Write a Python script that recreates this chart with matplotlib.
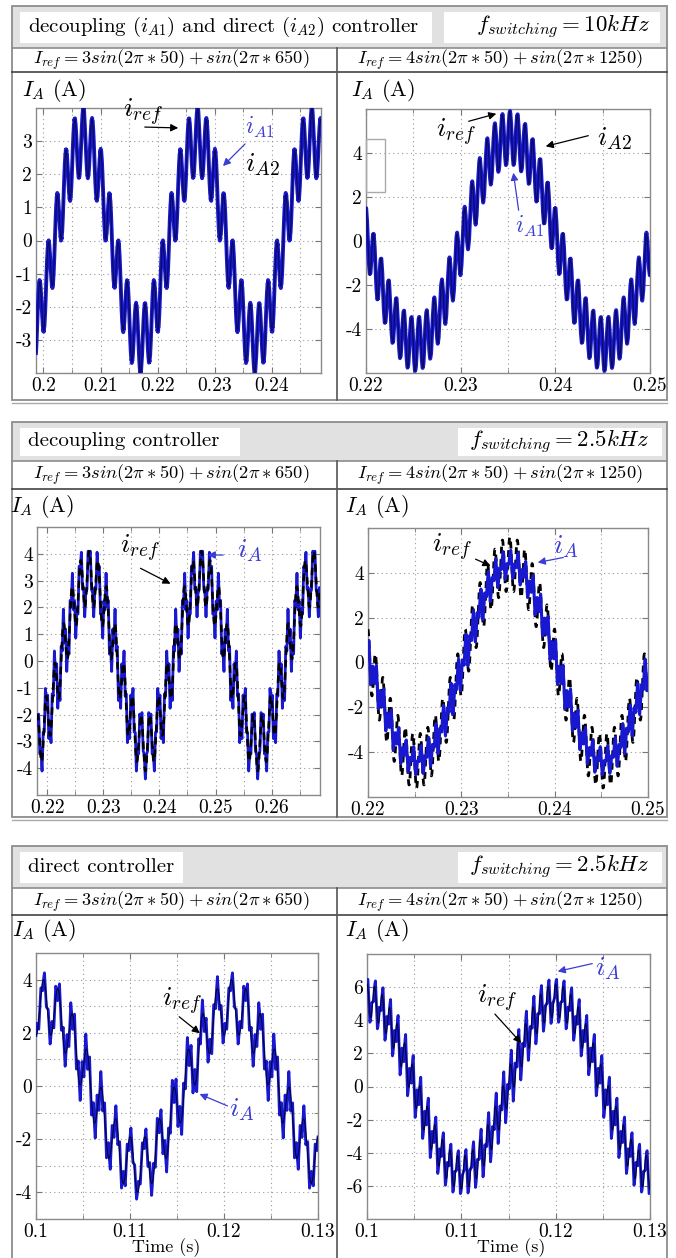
import numpy as np
import matplotlib
matplotlib.use("Agg")
import matplotlib.pyplot as plt
from matplotlib.patches import Rectangle, FancyArrowPatch
from matplotlib.lines import Line2D
from matplotlib.ticker import MultipleLocator

plt.rcParams['mathtext.fontset'] = 'cm'
plt.rcParams['axes.unicode_minus'] = False

# ---- signal parameters per panel (TL, TR, ML, MR, BL, BR) ----
f_fund = 50.0
f_harm = [650, 1250, 650, 1250, 650, 1250]
amp_fund = [3.0, 4.7, 3.1, 4.4, 3.0, 5.2]
amp_harm = [1.0, 1.2, 1.0, 1.2, 1.0, 1.0]
t_zero = [0.202, 0.2302, 0.2225, 0.2302, 0.0958, 0.095]
f_switch = [10000, 10000, 2500, 2500, 2500, 2500]
ripple = [0.05, 0.05, 0.55, 0.55, 0.6, 1.0]
harm_gain = [1.0, 1.0, 1.0, 0.35, 1.0, 1.0]

xlims = [(0.1987, 0.2486), (0.22, 0.25), (0.2182, 0.2686), (0.22, 0.25), (0.10, 0.13), (0.10, 0.13)]
ylims = [4, 6, 5, 6, 5, 8]
xtick_labels = [["0.2", "0.21", "0.22", "0.23", "0.24"],
                ["0.22", "0.23", "0.24", "0.25"],
                ["0.22", "0.23", "0.24", "0.25", "0.26"],
                ["0.22", "0.23", "0.24", "0.25"],
                ["0.1", "0.11", "0.12", "0.13"],
                ["0.1", "0.11", "0.12", "0.13"]]
ytick_labels = [["-3", "-2", "-1", "0", "1", "2", "3"],
                ["-4", "-2", "0", "2", "4"],
                ["-4", "-3", "-2", "-1", "0", "1", "2", "3", "4"],
                ["-4", "-2", "0", "2", "4"],
                ["-4", "-2", "0", "2", "4"],
                ["-6", "-4", "-2", "0", "2", "4", "6"]]
ygrid_step = [1, 2, 1, 2, 1, 2]

header_titles = [r'decoupling $(i_{A1})$ and direct $(i_{A2})$ controller',
                 'decoupling controller', 'direct controller']
switch_titles = [r'$f_{switching} = 10kHz$', r'$f_{switching} = 2.5kHz$',
                 r'$f_{switching} = 2.5kHz$']
ref_titles = [r'$I_{ref} = 3sin(2\pi * 50) + sin(2\pi * 650)$',
              r'$I_{ref} = 4sin(2\pi * 50) + sin(2\pi * 1250)$']

# ---- layout in pixels ----
W, H = 676, 1258
BLUE = '#1818d0'
LBLUE = '#3c3cd6'
CM = ['cmr10', 'DejaVu Serif']


def fx(x):
    return x / W


def fy(y):
    return 1 - y / H


fig = plt.figure(figsize=(W / 100, H / 100), dpi=100)


def rect(x0, y0, x1, y1, z=-5, **kw):
    fig.add_artist(Rectangle((fx(x0), fy(y1)), (x1 - x0) / W, (y1 - y0) / H,
                             transform=fig.transFigure, zorder=z, **kw))


def line(x0, y0, x1, y1, **kw):
    fig.add_artist(Line2D([fx(x0), fx(x1)], [fy(y0), fy(y1)],
                          transform=fig.transFigure, zorder=2, **kw))


def label(x, y, s, size, color='k', ha='center'):
    fig.text(fx(x), fy(y), s, fontsize=size, color=color, ha=ha, va='center',
             family=CM)


def arrow(x0, y0, x1, y1, color='k'):
    fig.add_artist(FancyArrowPatch(
        (fx(x0), fy(y0)), (fx(x1), fy(y1)), transform=fig.transFigure,
        arrowstyle='-|>', mutation_scale=11, color=color, lw=0.9, zorder=4))


blocks = [(6, 48, 72, 400), (422, 461, 489, 817), (846, 888, 915, 1275)]
left_boxes = [(20, 432), (20, 240), (20, 183)]
right_boxes = [(444, 660), (458, 662), (458, 662)]
axes_px = [[(36, 108, 321, 373), (366, 109, 650, 373)],
           [(37, 527, 320, 795), (368, 528, 648, 797)],
           [(36, 953, 318, 1219), (367, 954, 650, 1219)]]
ylabel_x = [(22, 351), (10, 345), (12, 345)]
ylabel_y = [90, 507, 931]

for b, (top, hbot, ebot, bot) in enumerate(blocks):
    rect(12, top, 667, hbot, z=-9, facecolor='#e1e1e1', edgecolor='none')
    rect(12, hbot, 667, bot, z=-9, facecolor='white', edgecolor='none')
    lx0, lx1 = left_boxes[b]
    rx0, rx1 = right_boxes[b]
    rect(lx0, top + 6, lx1, hbot - 5, facecolor='white', edgecolor='none')
    rect(rx0, top + 6, rx1, hbot - 5, facecolor='white', edgecolor='none')
    rect(12, top, 667, bot, z=2, facecolor='none', edgecolor='#8c8c8c', lw=1.3)
    line(12, hbot, 667, hbot, color='#8c8c8c', lw=1.2)
    line(12, ebot, 667, ebot, color='#333333', lw=1.1)
    line(337, hbot, 337, bot, color='#555555', lw=1.2)
    if bot < H:
        line(12, bot + 3, 667, bot + 3, color='#aaaaaa', lw=1.0)
    label(28, (top + hbot) / 2, header_titles[b], 15, ha='left')
    label(650, (top + hbot) / 2, switch_titles[b], 16.5, ha='right')
    label(171, (hbot + ebot) / 2, ref_titles[0], 13.3)
    label(500, (hbot + ebot) / 2, ref_titles[1], 13.3)
    for side in range(2):
        label(ylabel_x[b][side], ylabel_y[b], r'$I_A$ (A)', 16, ha='left')

axes = []
for p in range(6):
    b, side = divmod(p, 2)
    x0, y0, x1, y1 = axes_px[b][side]
    ax = fig.add_axes([fx(x0), fy(y1), (x1 - x0) / W, (y1 - y0) / H])
    ax.set_facecolor('none')
    axes.append(ax)

    t = np.arange(xlims[p][0] - 0.001, xlims[p][1] + 0.001, 5e-6)
    ph = t - t_zero[p]
    fund = amp_fund[p] * np.sin(2 * np.pi * f_fund * ph)
    harm = amp_harm[p] * np.sin(2 * np.pi * f_harm[p] * ph)
    i_ref = fund + harm
    tri = 2 / np.pi * np.arcsin(np.sin(2 * np.pi * f_switch[p] * t))
    env = 0.55 + 0.45 * np.abs(np.cos(2 * np.pi * f_fund * ph))
    i_a = fund + harm_gain[p] * harm + ripple[p] * env * tri

    if b == 0:
        ax.plot(t, i_a, color=BLUE, lw=2.8, zorder=3)
        ax.plot(t, i_ref, color='#0a0a60', lw=0.9, zorder=3)
    elif b == 1:
        if side == 0:
            ax.plot(t, i_a, color=BLUE, lw=2.0, zorder=3)
            ax.plot(t, i_ref, color='k', lw=1.8, dashes=(3, 2), zorder=3)
        else:
            ax.plot(t, i_ref, color='k', lw=2.0, dashes=(2.5, 2), zorder=3)
            ax.plot(t, i_a, color=BLUE, lw=2.2, zorder=3)
    else:
        ax.plot(t, i_a, color=BLUE, lw=2.0, zorder=3)
        ax.plot(t, i_ref, color='#000030', lw=0.7, zorder=3)

    ax.set_xlim(*xlims[p])
    ax.set_ylim(-ylims[p], ylims[p])
    ax.set_xticks([float(s) for s in xtick_labels[p]])
    ax.set_xticklabels(xtick_labels[p], family=CM, fontsize=14)
    ax.set_yticks([float(s) for s in ytick_labels[p]])
    ax.set_yticklabels(ytick_labels[p], family=CM, fontsize=14)
    ax.xaxis.set_minor_locator(MultipleLocator(0.005))
    ax.yaxis.set_minor_locator(MultipleLocator(ygrid_step[p]))
    ax.tick_params(which='both', direction='in', top=True, right=True,
                   color='#777777', pad=3)
    ax.tick_params(which='major', length=4)
    ax.tick_params(which='minor', length=3)
    ax.grid(which='both', color='#9a9a9a', lw=0.8, linestyle=(0, (1, 3)))
    ax.set_axisbelow(True)
    for sp in ax.spines.values():
        sp.set_color('#8a8a8a')
        sp.set_linewidth(1.0)

# small empty box left in the top-right panel
rect(366, 139, 385, 192, z=3, facecolor='none', edgecolor='#aaaaaa', lw=1.0)

# trace labels
label(143, 112, r'$i_{ref}$', 20)
arrow(142, 127, 181, 128)
label(260, 127, r'$i_{A1}$', 17, color=LBLUE)
arrow(247, 142, 221, 168, color=LBLUE)
label(262, 165, r'$i_{A2}$', 20)

label(456, 132, r'$i_{ref}$', 20)
arrow(466, 122, 499, 113)
label(614, 139, r'$i_{A2}$', 20)
arrow(591, 135, 543, 147)
# this label sits under the trace
axes[1].text(fx(530), fy(226), r'$i_{A1}$', fontsize=17, color=LBLUE,
             ha='center', va='center', transform=fig.transFigure, zorder=1)
arrow(519, 213, 513, 170, color=LBLUE)

label(140, 548, r'$i_{ref}$', 20)
arrow(138, 567, 173, 585)
label(250, 551, r'$i_A$', 20, color=LBLUE)
arrow(226, 555, 205, 555, color=LBLUE)

label(452, 547, r'$i_{ref}$', 20)
arrow(473, 558, 493, 567)
label(566, 547, r'$i_A$', 20, color=LBLUE)
arrow(566, 557, 535, 563, color=LBLUE)

label(182, 1001, r'$i_{ref}$', 20)
arrow(177, 1015, 202, 1035)
label(242, 1110, r'$i_A$', 20, color=LBLUE)
arrow(230, 1107, 197, 1093, color=LBLUE)

label(608, 969, r'$i_A$', 20, color=LBLUE)
arrow(595, 963, 555, 972, color=LBLUE)
label(497, 998, r'$i_{ref}$', 20)
arrow(493, 1012, 523, 1045)

label(166, 1248, 'Time (s)', 13)
label(511, 1248, 'Time (s)', 13)

fig.savefig('out.png', dpi=100)
